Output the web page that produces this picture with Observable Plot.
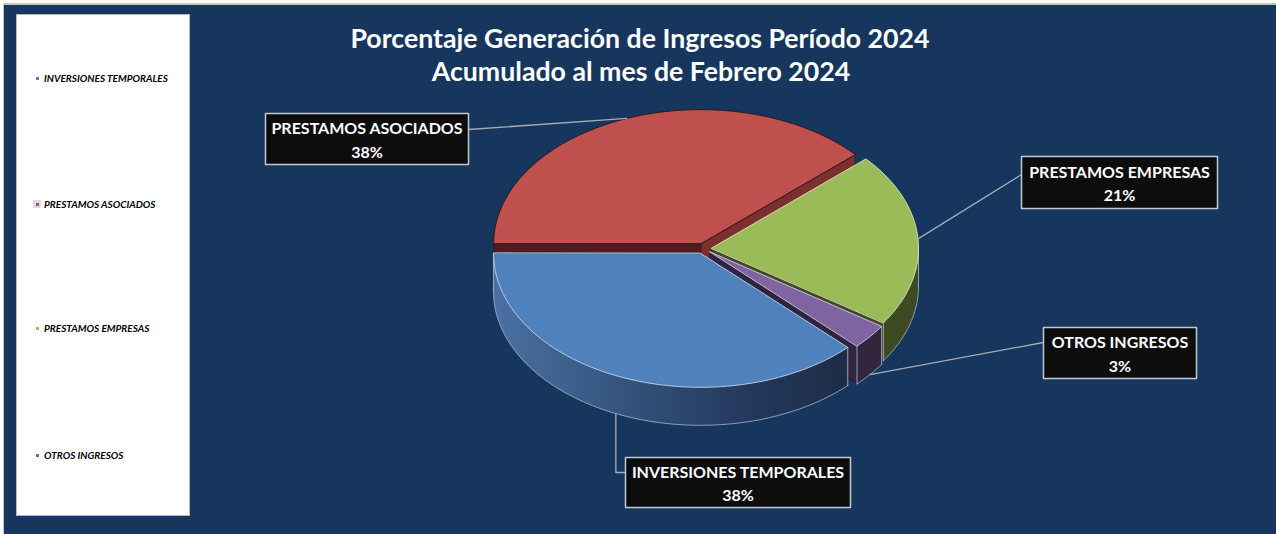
<!DOCTYPE html>
<html>
<head>
<meta charset="utf-8">
<script src="https://cdn.jsdelivr.net/npm/d3@7"></script>
<script src="https://cdn.jsdelivr.net/npm/@observablehq/plot@0.6"></script>
<style>
  html, body { margin: 0; padding: 0; background: #ffffff; width: 1276px; height: 534px; overflow: hidden; }
  #page { position: absolute; left: 0; top: 0; width: 1276px; height: 534px; }
  #bg { position: absolute; left: 3px; top: 3px; width: 1276px; height: 534px; background: #17365d; border-left: 1px solid #c6c6c6; border-top: 2px solid #c6c6c6; }
  #legend { position: absolute; left: 16px; top: 14px; width: 174px; height: 502px; background: #ffffff; border: 1px solid #b8b8b8; box-sizing: border-box; }
  .lg { position: absolute; left: 0; font-family: Lato, "Open Sans", sans-serif; font-style: italic; font-weight: 700; font-size: 10px; color: #000; white-space: nowrap; line-height: 12px; }
  .lg .sw { position: absolute; width: 3px; height: 3px; left: 19px; top: 4.5px; }
  .lg .tx { position: absolute; left: 27px; top: 0; }
  .title { position: absolute; left: 0; width: 1276px; text-align: center; font-family: Lato, "Open Sans", sans-serif; font-weight: 700; font-size: 26.7px; color: #ffffff; white-space: nowrap; }
  #chart { position: absolute; left: 0; top: 0; }
</style>
</head>
<body>
<div id="page">
  <div id="bg"></div>
  <div id="legend"></div>
  <div class="title" id="t1" style="top:22px; left:2px;"></div>
  <div class="title" id="t2" style="top:55px; left:3px;"></div>
  <div id="chart"></div>
</div>
<script>
// ---------------- data ----------------
const titleLines = ["Porcentaje Generación de Ingresos Período 2024", "Acumulado al mes de Febrero 2024"];
const categories = ["INVERSIONES TEMPORALES", "PRESTAMOS ASOCIADOS", "PRESTAMOS EMPRESAS", "OTROS INGRESOS"];
const values = [37.6, 38.4, 21.0, 3.0];
const percentLabels = ["38%", "38%", "21%", "3%"];

// ---------------- styles / layout ----------------
const topColors = ["#4f81bd", "#c0504d", "#9bbb59", "#8064a2"];
const topStrokes = ["#c9d6ea", "#2a1414", "#dfe8c6", "#d6cde6"];
const wallFills = ["url(#blueWall)", "#7a2f2e", "#3e4a21", "#32263f"];
const faceFillsLo = ["#1f3048", "#7b2f2e", "#3f4a20", "#2f2540"];
const faceFillsHi = ["#1f3048", "#4f1d1d", "#3f4a20", "#2f2540"];
const legendSwatch = ["#4f81bd", "#c0504d", "#9bbb59", "#8064a2"];

const CX = 703, CY = 248, RX = 207, RY = 134, DEPTH = 38, EXPLODE = 8;
const legendTops = [57, 183, 307, 434];
// label boxes
const boxes = [
  {x1: 625, y1: 457, x2: 850, y2: 507},
  {x1: 265, y1: 113, x2: 468, y2: 164},
  {x1: 1021, y1: 156, x2: 1217, y2: 208},
  {x1: 1043, y1: 327, x2: 1196, y2: 378}
];

document.getElementById("t1").textContent = titleLines[0];
document.getElementById("t2").textContent = titleLines[1];

// legend
const lg = document.getElementById("legend");
categories.forEach((c, i) => {
  const d = document.createElement("div");
  d.className = "lg";
  d.style.top = legendTops[i] + "px";
  d.style.width = "170px";
  if (i === 1) {
    const h = document.createElement("div");
    h.style.cssText = "position:absolute;left:16px;top:2px;width:8px;height:8px;background:#d6dcef;";
    d.appendChild(h);
  }
  const s = document.createElement("div");
  s.className = "sw"; s.style.background = legendSwatch[i];
  const t = document.createElement("div");
  t.className = "tx"; t.textContent = c;
  d.appendChild(s); d.appendChild(t);
  lg.appendChild(d);
});

// ---------------- pie geometry ----------------
const total = d3.sum(values);
const spans = values.map(v => v / total * 360);
let hiAngle = 180 + spans[0];
const slices = values.map((v, i) => {
  const hi = hiAngle, lo = hiAngle - spans[i];
  hiAngle = lo;
  const mid = (hi + lo) / 2;
  const rad = mid * Math.PI / 180;
  const ox = EXPLODE * Math.cos(rad), oy = -EXPLODE * Math.sin(rad) * RY / RX;
  return {i, name: categories[i], value: v, lo, hi, mid, ox, oy};
});
const pt = (s, deg, r = 1, dz = 0) => {
  const a = deg * Math.PI / 180;
  return {x: CX + s.ox + r * RX * Math.cos(a), y: CY + s.oy - r * RY * Math.sin(a) + dz};
};
const arcPts = (s, from, to, dz = 0) => {
  const n = Math.max(2, Math.ceil(Math.abs(to - from)));
  return d3.range(n + 1).map(k => pt(s, from + (to - from) * k / n, 1, dz));
};
const poly = (points, opts) => Plot.line(points, {x: "x", y: "y", ...opts});

const marks = [];
// radial cut faces that face the viewer
slices.forEach(s => {
  [["lo", s.lo, s.lo - 90], ["hi", s.hi, s.hi + 90]].forEach(([which, ang, normal]) => {
    if (Math.sin(normal * Math.PI / 180) < -1e-6) {
      const P = [pt(s, 0, 0), pt(s, ang), pt(s, ang, 1, DEPTH), pt(s, 0, 0, DEPTH)];
      marks.push(poly(P, {curve: "linear-closed",
        fill: which === "lo" ? faceFillsLo[s.i] : faceFillsHi[s.i], stroke: "#111", strokeWidth: 0.4}));
    }
  });
});
// outer walls (front half only)
slices.forEach(s => {
  let lo = s.lo, hi = s.hi;
  while (lo < 0) { lo += 360; hi += 360; }
  [[180, 360], [540, 720]].forEach(([f0, f1]) => {
    const a = Math.max(lo, f0), b = Math.min(hi, f1);
    if (b - a > 0.01) {
      const top = arcPts(s, a, b);
      const bottom = arcPts(s, b, a, DEPTH);
      marks.push(poly([...top, ...bottom], {curve: "linear-closed", fill: wallFills[s.i], stroke: "none"}));
      marks.push(poly(bottom, {stroke: "#a9b6c9", strokeWidth: 0.8}));
      marks.push(poly([pt(s, a), pt(s, a, 1, DEPTH)], {stroke: "#b7c0cf", strokeWidth: 0.8}));
      marks.push(poly([pt(s, b), pt(s, b, 1, DEPTH)], {stroke: "#b7c0cf", strokeWidth: 0.8}));
    }
  });
});
// top faces
slices.forEach(s => {
  const P = [pt(s, 0, 0), ...arcPts(s, s.hi, s.lo)];
  marks.push(poly(P, {curve: "linear-closed", fill: topColors[s.i], stroke: topStrokes[s.i], strokeWidth: 0.9}));
});

// leader lines
slices.forEach(s => {
  const b = boxes[s.i];
  let L;
  if (s.i === 0) {
    const a = pt(s, s.mid, 1, DEPTH);
    const ly = (b.y1 + b.y2) / 2 - 10;
    L = [{x: a.x - 6, y: a.y - 1}, {x: a.x - 6, y: ly}, {x: b.x1, y: ly}];
  } else if (s.i === 1) {
    L = [pt(s, s.mid), {x: b.x2, y: b.y1 + 16}];
  } else if (s.i === 2) {
    L = [pt(s, s.mid), {x: b.x1, y: b.y1 + 18}];
  } else {
    L = [pt(s, s.mid, 1, DEPTH), {x: b.x1, y: b.y1 + 15}];
  }
  marks.push(poly(L, {stroke: "#a6adb6", strokeWidth: 1.3}));
});

// label boxes + text
const labelData = slices.map(s => {
  const b = boxes[s.i];
  return {text: `${s.name}\n${percentLabels[s.i]}`, cx: (b.x1 + b.x2) / 2, cy: (b.y1 + b.y2) / 2 - 0.5,
    outline: [{x: b.x1, y: b.y1}, {x: b.x2, y: b.y1}, {x: b.x2, y: b.y2}, {x: b.x1, y: b.y2}]};
});
labelData.forEach(l => marks.push(poly(l.outline, {curve: "linear-closed", fill: "#0d0d0d", stroke: "#c3cad4", strokeWidth: 1.5})));
marks.push(Plot.text(labelData, {x: "cx", y: "cy", text: "text", fill: "#ffffff", fontSize: 16, fontWeight: "bold",
  fontFamily: "Lato, 'Open Sans', sans-serif", lineHeight: 1.45}));

const chart = Plot.plot({
  width: 1276, height: 534, margin: 0,
  x: {type: "identity", axis: null},
  y: {type: "identity", axis: null},
  style: {background: "transparent", overflow: "visible"},
  marks
});
const ns = "http://www.w3.org/2000/svg";
const defs = document.createElementNS(ns, "defs");
const g = document.createElementNS(ns, "linearGradient");
g.setAttribute("id", "blueWall"); g.setAttribute("x1", "0"); g.setAttribute("x2", "1"); g.setAttribute("y1", "0"); g.setAttribute("y2", "0");
[["0", "#4a71a3"], ["0.45", "#2f4d74"], ["0.75", "#22365a"], ["1", "#1d2d45"]].forEach(([o, c]) => {
  const st = document.createElementNS(ns, "stop"); st.setAttribute("offset", o); st.setAttribute("stop-color", c); g.appendChild(st);
});
defs.appendChild(g);
chart.insertBefore(defs, chart.firstChild);
document.getElementById("chart").appendChild(chart);
</script>
</body>
</html>
